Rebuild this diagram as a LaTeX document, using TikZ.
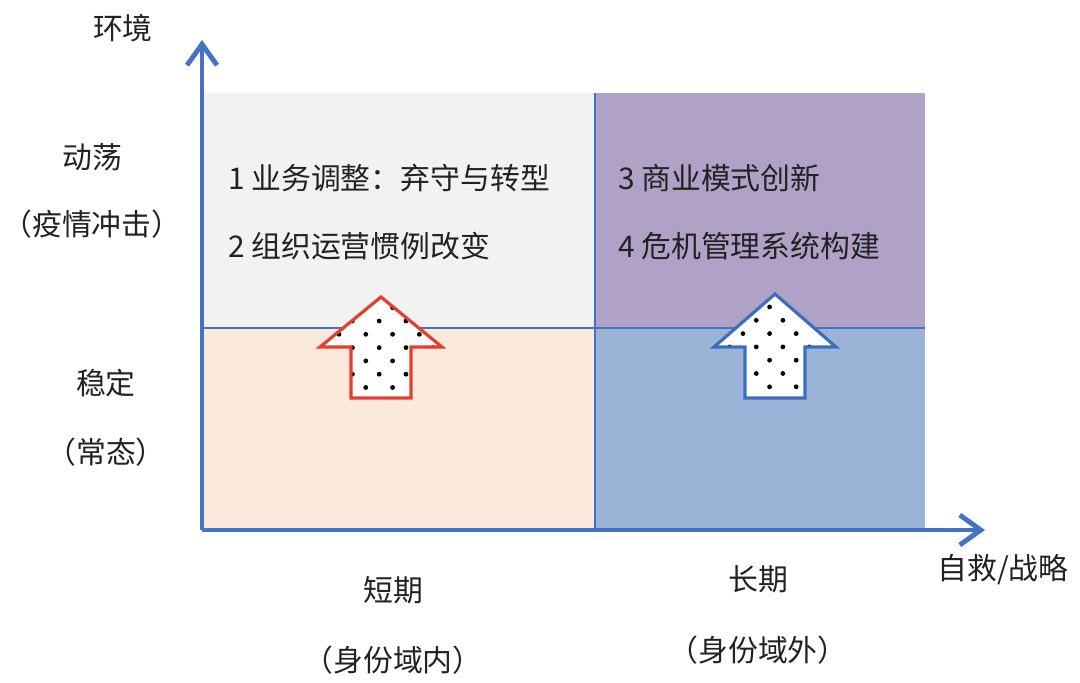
\documentclass[tikz,border=0pt]{standalone}
\usepackage{fontspec}
\usepackage{tikz}
\usetikzlibrary{arrows.meta, positioning}
\newfontfamily\cjk{Noto Sans CJK SC}
\definecolor{axisblue}{RGB}{68, 114, 196}
\definecolor{calmgray}{RGB}{242, 242, 242}
\definecolor{stormpurple}{RGB}{176, 162, 198}
\definecolor{calmpeach}{RGB}{251, 233, 219}
\definecolor{longblue}{RGB}{155, 179, 214}
\definecolor{shortred}{RGB}{229, 62, 48}
\definecolor{arrowblue}{RGB}{58, 111, 191}
\definecolor{inkgray}{RGB}{34, 34, 34}

\begin{document}
\begin{tikzpicture}[
    x=0.02cm, y=-0.02cm,
    node distance=1.2cm,
    lbl/.style={font=\cjk\fontsize{17}{20}\selectfont, text=inkgray, inner sep=1pt},
    item/.style={lbl, anchor=west},
    axis/.style={draw=axisblue, line width=2.8pt, -{Straight Barb[length=0.42cm, width=0.6cm]}},
    divider/.style={draw=axisblue, line width=0.8pt},
    uparrow/.style={line width=1.8pt, line join=miter}
]
    \useasboundingbox (0,0) rectangle (1080,683);

    % quadrants
    \fill[calmgray]    (202,93)  rectangle (595,328);
    \fill[stormpurple] (595,93)  rectangle (925,328);
    \fill[calmpeach]   (202,328) rectangle (595,530);
    \fill[longblue]    (595,328) rectangle (925,530);
    \draw[divider] (202,328) -- (925,328);
    \draw[divider] (595,93) -- (595,530);

    % axes
    \coordinate (origin) at (202,530);
    \coordinate (ytop)   at (202,40);
    \coordinate (xend)   at (985,530);
    \draw[axis] (origin) -- (ytop);
    \draw[axis] (origin) -- (xend);

    % axis labels
    \node[lbl] (env)    at (123,28)  {环境};
    \node[lbl] (shock)  at (92,157)  {动荡};
    \node[lbl, below=1.34cm of shock.center, anchor=center] (shockp) {（疫情冲击）};
    \node[lbl] (calm)   at (106,383) {稳定};
    \node[lbl, below=1.38cm of calm.center, anchor=center] (calmp) {（常态）};
    \node[lbl] (short)  at (393,590) {短期};
    \node[lbl, below=1.4cm of short.center, anchor=center] (shortp) {（身份域内）};
    \node[lbl] (long)   at (758,579) {长期};
    \node[lbl, below=1.42cm of long.center, anchor=center] (longp) {（身份域外）};
    \node[lbl] (strat)  at (1003,570) {自救/战略};

    % quadrant items
    \node[item] (adjust) at (226,178) {1 业务调整：弃守与转型};
    \node[item, below=1.36cm of adjust.west, anchor=west] (routine) {2 组织运营惯例改变};
    \node[item] (model)  at (616,178) {3 商业模式创新};
    \node[item, below=1.36cm of model.west, anchor=west] (crisis) {4 危机管理系统构建};

    % short-term arrow
    \begin{scope}
        \clip (381,297) -- (442,347) -- (411,347) -- (411,398) -- (351,398) -- (351,347) -- (320,347) -- cycle;
        \fill[white] (320,290) rectangle (442,400);
        \foreach \j in {-1,...,6}
            \foreach \m in {0,...,4}
                \fill[black] ({339+13.4*(2*\m+mod(\j+1,2))}, {321+13.3*\j}) circle (2.4);
    \end{scope}
    \draw[uparrow, draw=shortred] (381,297) -- (442,347) -- (411,347) -- (411,398) -- (351,398) -- (351,347) -- (320,347) -- cycle;

    % long-term arrow
    \begin{scope}
        \clip (775,294) -- (836,347) -- (805,347) -- (805,398) -- (745,398) -- (745,347) -- (714,347) -- cycle;
        \fill[white] (714,290) rectangle (836,400);
        \foreach \j in {0,...,7}
            \foreach \m in {-1,...,4}
                \fill[black] ({743+13.3*(2*\m+mod(\j,2))}, {307+13.3*\j}) circle (2.4);
    \end{scope}
    \draw[uparrow, draw=arrowblue] (775,294) -- (836,347) -- (805,347) -- (805,398) -- (745,398) -- (745,347) -- (714,347) -- cycle;
\end{tikzpicture}
\end{document}
